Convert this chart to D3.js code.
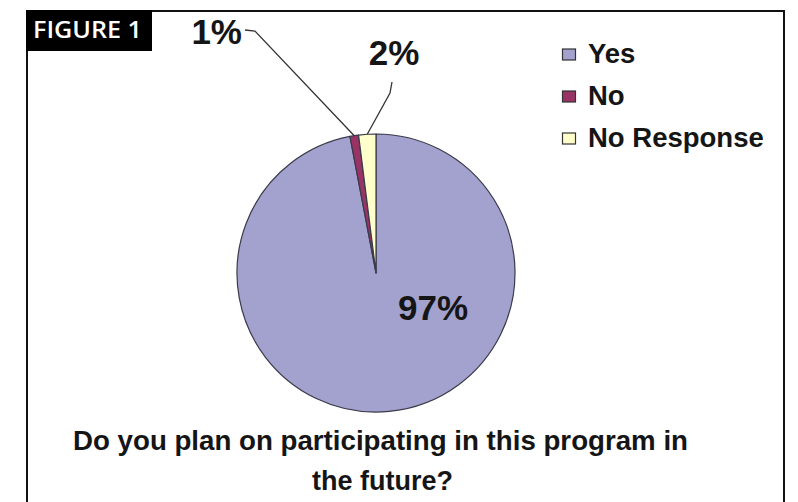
<!DOCTYPE html>
<html>
<head>
<meta charset="utf-8">
<script src="https://cdn.jsdelivr.net/npm/d3@7"></script>
<style>
  html, body { margin: 0; padding: 0; background: #fff; }
  svg { display: block; }
</style>
</head>
<body>
<svg id="chart" width="798" height="502"></svg>
<script>
// Survey responses
const categories = ["Yes", "No", "No Response"];
const values = [97, 1, 2];
const valueLabels = ["97%", "1%", "2%"];
const sliceColors = ["#a3a2cf", "#993366", "#ffffcc"];
const questionLines = ["Do you plan on participating in this program in", "the future?"];
const figureTag = "FIGURE 1";

const W = 798, H = 502;
const cx = 376, cy = 273, R = 139;

const svg = d3.select("#chart");

// Outer frame (open at the bottom edge)
svg.append("path")
  .attr("d", `M27,${H + 2} L27,11 L784,11 L784,${H + 2}`)
  .attr("fill", "none")
  .attr("stroke", "#111")
  .attr("stroke-width", 2);

// Figure tag
svg.append("rect")
  .attr("x", 26).attr("y", 10).attr("width", 126).attr("height", 41)
  .attr("fill", "#000");
svg.append("text")
  .attr("x", 33).attr("y", 37.5)
  .attr("fill", "#fff")
  .attr("font-family", "'Open Sans', sans-serif")
  .attr("font-weight", 600)
  .attr("font-size", 23)
  .attr("textLength", 109)
  .attr("lengthAdjust", "spacingAndGlyphs")
  .text(figureTag);

// Pie
const data = categories.map((c, i) => ({ cat: c, value: values[i], label: valueLabels[i], color: sliceColors[i] }));
const pie = d3.pie().value(d => d.value).sort(null).startAngle(0).endAngle(2 * Math.PI);
const arcs = pie(data);
const arc = d3.arc().innerRadius(0).outerRadius(R);

const g = svg.append("g").attr("transform", `translate(${cx},${cy})`);
g.selectAll("path.slice")
  .data(arcs)
  .join("path")
  .attr("class", "slice")
  .attr("d", arc)
  .attr("fill", d => d.data.color)
  .attr("stroke", "#3a3a4a")
  .attr("stroke-width", 1.2)
  .attr("stroke-linejoin", "round");

// Label placement for each slice (relative to the pie centre)
const labelLayout = {
  "Yes":         { x: 57,  y: 47,   anchor: "middle", leader: null },
  "No":          { x: -134, y: -229, anchor: "end",   leader: [[-131, -243], [-121, -242]] },
  "No Response": { x: 18,  y: -208, anchor: "middle", leader: [[16, -191], [14, -180]] }
};

const labelFont = "'Liberation Sans', Arial, sans-serif";

arcs.forEach(a => {
  const L = labelLayout[a.data.cat];
  if (L.leader) {
    const mid = (a.startAngle + a.endAngle) / 2;
    const edge = [R * Math.sin(mid), -R * Math.cos(mid)];
    g.append("path")
      .attr("d", d3.line()([...L.leader, edge]))
      .attr("fill", "none")
      .attr("stroke", "#333")
      .attr("stroke-width", 1.3);
  }
  g.append("text")
    .attr("x", L.x).attr("y", L.y)
    .attr("text-anchor", L.anchor)
    .attr("font-family", labelFont)
    .attr("font-weight", "bold")
    .attr("font-size", 35)
    .attr("fill", "#151515")
    .text(a.data.label);
});

// Legend
const legend = svg.append("g").attr("transform", "translate(562,0)");
const legendRows = legend.selectAll("g")
  .data(data)
  .join("g")
  .attr("transform", (d, i) => `translate(0,${62.5 + i * 42})`);
legendRows.append("rect")
  .attr("x", 0.5).attr("y", -13.5).attr("width", 13).attr("height", 11)
  .attr("fill", d => d.color)
  .attr("stroke", "#333")
  .attr("stroke-width", 1.2);
legendRows.append("text")
  .attr("x", 26).attr("y", 0)
  .attr("font-family", labelFont)
  .attr("font-weight", "bold")
  .attr("font-size", 27.5)
  .attr("fill", "#151515")
  .text(d => d.cat);

// Question caption
svg.append("text")
  .attr("x", 73).attr("y", 450)
  .attr("font-family", labelFont)
  .attr("font-weight", "bold")
  .attr("font-size", 28)
  .attr("fill", "#151515")
  .attr("textLength", 615)
  .attr("lengthAdjust", "spacingAndGlyphs")
  .text(questionLines[0]);
svg.append("text")
  .attr("x", 312).attr("y", 490)
  .attr("font-family", labelFont)
  .attr("font-weight", "bold")
  .attr("font-size", 28)
  .attr("fill", "#151515")
  .attr("textLength", 141)
  .attr("lengthAdjust", "spacingAndGlyphs")
  .text(questionLines[1]);
</script>
</body>
</html>
